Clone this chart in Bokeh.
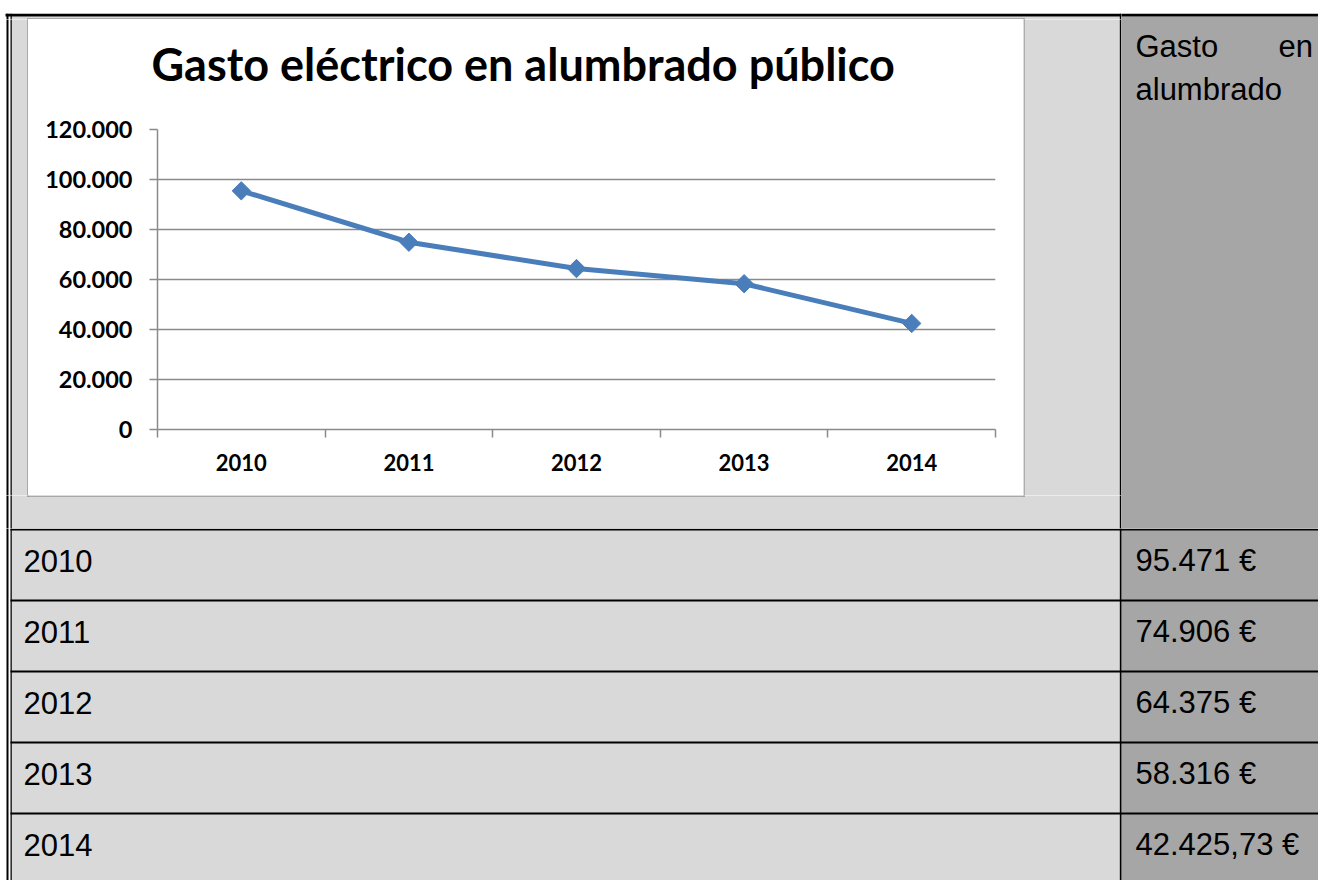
import numpy as np
from bokeh.plotting import figure
from bokeh.layouts import row, column
from bokeh.models import Range1d, FixedTicker, ColumnDataSource, Title
from bokeh.core.properties import value
from bokeh.embed import file_html
from bokeh.resources import INLINE

# ---------------- data ----------------
years = ["2010", "2011", "2012", "2013", "2014"]
gasto = [95471, 74906, 64375, 58316, 42425.73]
gasto_labels = ["95.471 €", "74.906 €", "64.375 €", "58.316 €", "42.425,73 €"]
y_ticks = [0, 20000, 40000, 60000, 80000, 100000, 120000]
title_text = "Gasto eléctrico en alumbrado público"
header_first = ["Gasto", "en"]
header_second = ["alumbrado"]

# ---------------- styles ----------------
LIGHT = "#d9d9d9"
DARK = "#a6a6a6"
BLUE = "#4a7ebb"
GRID = "#8a8a8a"
BOX = "#8e8e8e"
CALIBRI = "Lato"
ARIAL = "Liberation Sans"
ROW_FONT = "31px"

# row separators (page coordinates)
row_lines = [529.2, 600.0, 671.0, 742.0, 813.0]


def deco(x0, y0, x1, y1):
    """A plain piece of the page, drawn in page pixel coordinates."""
    f = figure(width=x1 - x0, height=y1 - y0,
               x_range=Range1d(x0, x1), y_range=Range1d(y1, y0),
               toolbar_location=None, output_backend="svg",
               x_axis_location=None, y_axis_location=None,
               min_border=0, outline_line_color=None, frame_align=False,
               background_fill_color="white", border_fill_color="white")
    f.grid.visible = False
    # cell fills
    f.quad(left=[11.3], right=[1119.3], top=[16], bottom=[900], color=LIGHT, line_color=None)
    f.quad(left=[1121], right=[1330], top=[16], bottom=[900], color=DARK, line_color=None)
    # table borders
    f.quad(left=[5], right=[1330], top=[13.3], bottom=[16], color="black", line_color=None)
    f.quad(left=[6], right=[8], top=[13.3], bottom=[900], color="black", line_color=None)
    f.quad(left=[10], right=[11.3], top=[13.3], bottom=[900], color="black", line_color=None)
    f.quad(left=[1119.3], right=[1121], top=[13.3], bottom=[900], color="black", line_color=None)
    f.quad(left=[10] * len(row_lines), right=[1330] * len(row_lines),
           top=[v - 0.9 for v in row_lines], bottom=[v + 0.9 for v in row_lines],
           color="black", line_color=None)
    # chart box
    f.quad(left=[27], right=[1024.2], top=[17.8], bottom=[496.2], color="white", line_color=None)
    f.quad(left=[26.8, 26.8, 26.8, 1023.0], right=[28.0, 1024.2, 1024.2, 1024.2],
           top=[17.8, 17.8, 495.0, 17.8], bottom=[496.2, 19.0, 496.2, 496.2],
           color=BOX, line_color=None)
    return f


# ---------------- chart ----------------
xpos = [i + 0.5 for i in range(len(years))]
bounds = list(range(len(years) + 1))

p = figure(width=995, height=476,
           x_range=Range1d(0, len(years)), y_range=Range1d(y_ticks[0], y_ticks[-1]),
           toolbar_location=None, output_backend="svg", frame_align=False,
           min_border_left=129, min_border_right=28, min_border_top=110, min_border_bottom=66,
           background_fill_color="white", border_fill_color="white",
           outline_line_color=None)

# spacer panel between the frame and the title, then the title itself
gap = Title(text=" ", text_font_size="1px", standoff=36, text_color="white")
p.add_layout(gap, "above")
main_title = Title(text=title_text, text_font=CALIBRI, text_font_style="bold",
                   text_font_size="45px", text_color="black", align="left",
                   offset=-6, standoff=0)
p.add_layout(main_title, "above")

p.xgrid.visible = False
p.ygrid.grid_line_color = GRID
p.ygrid.grid_line_width = 1.5

p.yaxis.ticker = FixedTicker(ticks=y_ticks)
p.yaxis.major_label_overrides = {t: f"{t:,}".replace(",", ".") for t in y_ticks}
p.yaxis.axis_line_color = GRID
p.yaxis.axis_line_width = 1.5
p.yaxis.major_tick_line_color = GRID
p.yaxis.major_tick_line_width = 1.5
p.yaxis.major_tick_out = 8
p.yaxis.major_tick_in = 0
p.yaxis.minor_tick_line_color = None
p.yaxis.major_label_standoff = 17

p.xaxis.ticker = FixedTicker(ticks=xpos, minor_ticks=bounds)
p.xaxis.major_label_overrides = {x: y for x, y in zip(xpos, years)}
p.xaxis.axis_line_color = GRID
p.xaxis.axis_line_width = 1.5
p.xaxis.major_tick_line_color = None
p.xaxis.major_tick_out = 0
p.xaxis.major_tick_in = 0
p.xaxis.minor_tick_line_color = GRID
p.xaxis.minor_tick_line_width = 1.5
p.xaxis.minor_tick_out = 8
p.xaxis.minor_tick_in = 0
p.xaxis.major_label_standoff = 16

for ax, fs in ((p.xaxis, "22px"), (p.yaxis, "23.5px")):
    ax.major_label_text_font = CALIBRI
    ax.major_label_text_font_style = "bold"
    ax.major_label_text_font_size = fs
    ax.major_label_text_color = "black"

p.line(xpos, gasto, line_color=BLUE, line_width=5, line_join="round")
p.scatter(xpos, gasto, marker="square", angle=np.pi / 4, size=13,
          fill_color=BLUE, line_color=BLUE)

# ---------------- table pieces ----------------
T = deco(0, 0, 1121, 19)
L = deco(0, 19, 28, 495)
R = deco(1023, 19, 1121, 495)
B = deco(0, 495, 1121, 528)
H = deco(1121, 0, 1318, 528)
LOW = deco(0, 528, 1318, 880)

H.text(x=[1135], y=[46], text=[header_first[0]], text_font=value(ARIAL),
       text_font_size=ROW_FONT, text_color="black", text_baseline="alphabetic", text_align="left")
H.text(x=[1312.5], y=[46], text=[header_first[1]], text_font=value(ARIAL),
       text_font_size=ROW_FONT, text_color="black", text_baseline="alphabetic", text_align="right")
H.text(x=[1135], y=[89], text=header_second, text_font=value(ARIAL),
       text_font_size=ROW_FONT, text_color="black", text_baseline="alphabetic", text_align="left")

base = [v + 31 for v in row_lines]
src = ColumnDataSource(dict(year=years, lab=gasto_labels, yb=base,
                            xl=[23] * len(years), xr=[1135] * len(years)))
LOW.text(x="xl", y="yb", text="year", source=src, text_font=value(ARIAL),
         text_font_size=ROW_FONT, text_color="black", text_baseline="alphabetic", text_align="left")
LOW.text(x="xr", y="yb", text="lab", source=src, text_font=value(ARIAL),
         text_font_size=ROW_FONT, text_color="black", text_baseline="alphabetic", text_align="left")

layout = column(row(column(T, row(L, p, R), B), H), LOW)

open("out.html", "w").write(file_html(layout, INLINE))
